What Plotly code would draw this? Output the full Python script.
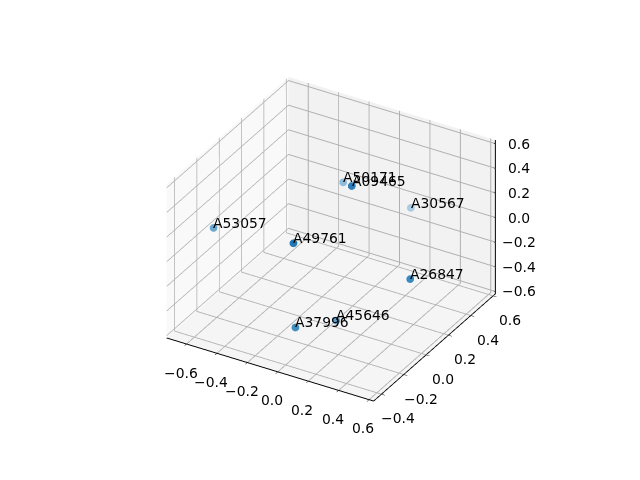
import plotly.graph_objects as go

names = ['A49761', 'A09465', 'A26847', 'A37996', 'A45646', 'A53057', 'A50171', 'A30567']
xs = [-0.002, 0.126, 0.489, 0.011, 0.103, -0.663, -0.239, 0.090]
ys = [-0.328, 0.020, 0.049, -0.328, -0.088, -0.143, 0.440, 0.598]
zs = [0.311, 0.546, -0.096, -0.368, -0.469, 0.039, 0.103, -0.106]
# depth shading, solid colours instead of alpha
shades = ['#1f77b4', '#2a7db8', '#3a8abd', '#3f8dbf', '#5fa0cb', '#6ba8d0', '#8fbcdb', '#a9cce3']

x_ticks = [-0.6, -0.4, -0.2, 0.0, 0.2, 0.4, 0.6]
y_ticks = [-0.4, -0.2, 0.0, 0.2, 0.4, 0.6]
z_ticks = [-0.6, -0.4, -0.2, 0.0, 0.2, 0.4, 0.6]
x_range = [-0.73, 0.63]
y_range = [-0.47, 0.62]
z_range = [-0.62, 0.63]

fig = go.Figure(go.Scatter3d(
    x=xs, y=ys, z=zs,
    mode='markers',
    marker=dict(size=4.5, color=shades, line=dict(width=0)),
    hoverinfo='skip',
))

# plotly always puts the z axis on the left here, so draw it on the right edge by hand
fig.add_trace(go.Scatter3d(
    x=[x_range[1]] * 2, y=[y_range[1]] * 2, z=z_range,
    mode='lines', line=dict(color='black', width=2), hoverinfo='skip',
))
for t in z_ticks:
    fig.add_trace(go.Scatter3d(
        x=[x_range[1], x_range[1] - 0.03], y=[y_range[1]] * 2, z=[t, t],
        mode='lines', line=dict(color='black', width=2), hoverinfo='skip',
    ))


def tick_text(t):
    return f'{t:.1f}'.replace('-', '\u2212')


tick_font = dict(family='DejaVu Sans', size=13.9, color='black')

annotations = []
for name, x, y, z in zip(names, xs, ys, zs):
    annotations.append(dict(
        x=x, y=y, z=z, text=name, showarrow=False,
        xanchor='left', yanchor='bottom', xshift=-2, yshift=-5,
        font=tick_font,
    ))
# tick labels as annotations too, the built in ones sit too close to the axis
# small nudge on y: exactly on the range end the annotation gets dropped
for t in x_ticks:
    annotations.append(dict(
        x=t, y=y_range[0] + 0.002, z=z_range[0] + 0.002, text=tick_text(t), showarrow=False,
        xanchor='center', yanchor='middle', xshift=-6, yshift=-29, font=tick_font,
    ))
for t in y_ticks:
    annotations.append(dict(
        x=x_range[1], y=t, z=z_range[0], text=tick_text(t), showarrow=False,
        xanchor='center', yanchor='middle', xshift=17, yshift=-24, font=tick_font,
    ))
for t in z_ticks:
    annotations.append(dict(
        x=x_range[1], y=y_range[1], z=t, text=tick_text(t),
        showarrow=False, xanchor='center', yanchor='middle', xshift=24,
        font=tick_font,
    ))


def axis_style(rng, ticks, pane):
    return dict(
        range=rng, autorange=False, tickvals=ticks, tickformat='.1f',
        showticklabels=False,
        title=dict(text=''), showbackground=True, backgroundcolor=pane,
        showgrid=True, gridcolor='#b0b0b0', gridwidth=2,
        zeroline=False, showline=True, linecolor='black', linewidth=2,
        ticks='outside', ticklen=4, tickcolor='black',
        showspikes=False,
    )


z_axis = axis_style(z_range, z_ticks, '#f5f5f5')
z_axis.update(showline=False, ticks='')

fig.update_layout(
    width=640, height=480,
    margin=dict(l=0, r=0, t=0, b=0),
    paper_bgcolor='white',
    showlegend=False,
    font=dict(family='DejaVu Sans'),
    scene=dict(
        domain=dict(x=[0, 1], y=[0, 1]),
        xaxis=axis_style(x_range, x_ticks, '#f9f9f9'),
        yaxis=axis_style(y_range, y_ticks, '#f2f2f2'),
        zaxis=z_axis,
        aspectmode='manual',
        aspectratio=dict(x=1, y=1, z=0.75),
        annotations=annotations,
        camera=dict(
            projection=dict(type='orthographic'),
            eye=dict(x=0.765, y=-1.325, z=0.883),
            up=dict(x=0, y=0, z=1),
            center=dict(x=-0.011, y=-0.0065, z=-0.044),
        ),
    ),
)

fig.write_html("out.html")
